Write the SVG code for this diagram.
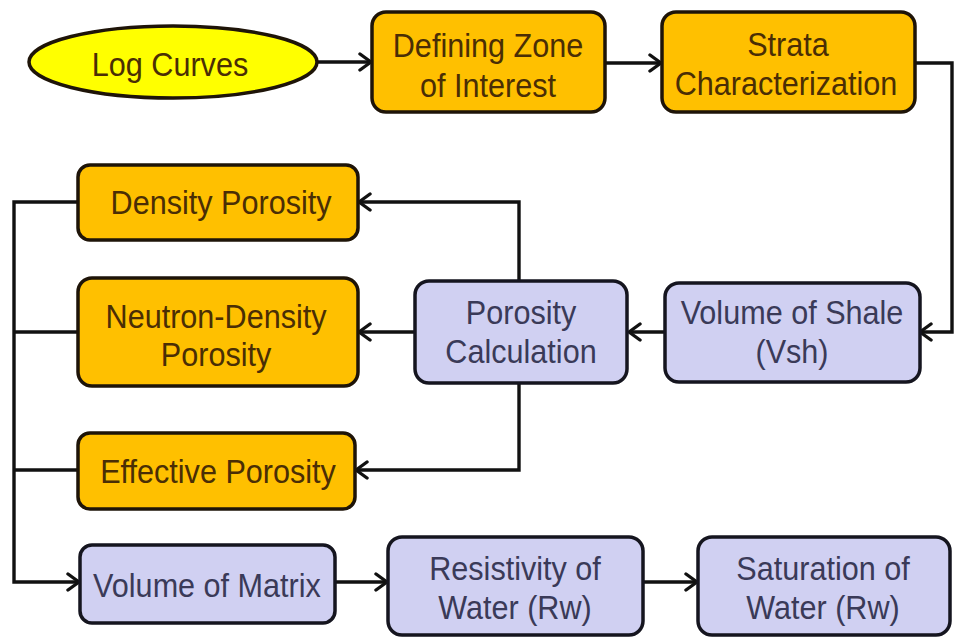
<svg xmlns="http://www.w3.org/2000/svg" width="954" height="637" viewBox="0 0 954 637">
<defs>
<marker id="arr" markerUnits="userSpaceOnUse" markerWidth="16" markerHeight="20" refX="13" refY="10" orient="auto">
<path d="M2,2 L13,10 L2,18" fill="none" stroke="#111" stroke-width="3.4" stroke-linecap="round" stroke-linejoin="round"/>
</marker>
<style>
.o{fill:#FFC000;stroke:#1e1408;stroke-width:3.5}
.p{fill:#D0D0F2;stroke:#15151f;stroke-width:3.5}
.y{fill:#FFFF00;stroke:#1e1408;stroke-width:3.5}
text{font-family:"Liberation Sans",Arial,sans-serif;font-size:34px;text-anchor:middle;transform-box:fill-box;transform-origin:center;transform:scaleX(0.9)}
.to{fill:#4a2e05}
.tp{fill:#3a3a58}
.c{fill:none;stroke:#111;stroke-width:3.4}
</style>
</defs>
<rect width="954" height="637" fill="#fff"/>
<g id="connectors">
<line class="c" x1="317" y1="62" x2="371" y2="62" marker-end="url(#arr)"/>
<line class="c" x1="606" y1="63" x2="661" y2="63" marker-end="url(#arr)"/>
<polyline class="c" points="915,63 952,63 952,332 920,332" marker-end="url(#arr)"/>
<line class="c" x1="664" y1="332" x2="629" y2="332" marker-end="url(#arr)"/>
<polyline class="c" points="519,281 519,202 359,202" marker-end="url(#arr)"/>
<line class="c" x1="415" y1="332" x2="359" y2="332" marker-end="url(#arr)"/>
<polyline class="c" points="519,383 519,470 356,470" marker-end="url(#arr)"/>
<polyline class="c" points="78,202 14,202 14,582 79,582" marker-end="url(#arr)"/>
<line class="c" x1="78" y1="332" x2="14" y2="332"/>
<line class="c" x1="78" y1="470" x2="14" y2="470"/>
<line class="c" x1="335" y1="582" x2="387" y2="582" marker-end="url(#arr)"/>
<line class="c" x1="643" y1="582" x2="697" y2="582" marker-end="url(#arr)"/>
</g>
<g id="log-curves">
<ellipse class="y" cx="173" cy="62" rx="144" ry="36"/>
<text class="to" x="170" y="76">Log Curves</text>
</g>
<g id="defining-zone">
<rect class="o" x="372" y="12" width="233" height="100" rx="14"/>
<text class="to" x="488" y="57">Defining Zone</text>
<text class="to" x="488" y="97">of Interest</text>
</g>
<g id="strata">
<rect class="o" x="662" y="12" width="253" height="100" rx="14"/>
<text class="to" x="788" y="56">Strata</text>
<text class="to" x="786" y="95">Characterization</text>
</g>
<g id="density-porosity">
<rect class="o" x="78" y="165" width="280" height="75" rx="12"/>
<text class="to" x="221" y="214">Density Porosity</text>
</g>
<g id="neutron-density">
<rect class="o" x="78" y="278" width="280" height="108" rx="14"/>
<text class="to" x="216" y="328">Neutron-Density</text>
<text class="to" x="216" y="366">Porosity</text>
</g>
<g id="porosity-calculation">
<rect class="p" x="415" y="281" width="212" height="102" rx="14"/>
<text class="tp" x="521" y="324">Porosity</text>
<text class="tp" x="521" y="363">Calculation</text>
</g>
<g id="volume-shale">
<rect class="p" x="665" y="283" width="255" height="99" rx="14"/>
<text class="tp" x="792" y="324">Volume of Shale</text>
<text class="tp" x="792" y="363">(Vsh)</text>
</g>
<g id="effective-porosity">
<rect class="o" x="78" y="433" width="277" height="76" rx="12"/>
<text class="to" x="218" y="483">Effective Porosity</text>
</g>
<g id="volume-matrix">
<rect class="p" x="80" y="545" width="255" height="78" rx="12"/>
<text class="tp" x="207" y="597">Volume of Matrix</text>
</g>
<g id="resistivity-water">
<rect class="p" x="388" y="537" width="255" height="98" rx="14"/>
<text class="tp" x="515" y="580">Resistivity of</text>
<text class="tp" x="515" y="619">Water (Rw)</text>
</g>
<g id="saturation-water">
<rect class="p" x="698" y="537" width="252" height="98" rx="14"/>
<text class="tp" x="823" y="580">Saturation of</text>
<text class="tp" x="823" y="619">Water (Rw)</text>
</g>
</svg>
